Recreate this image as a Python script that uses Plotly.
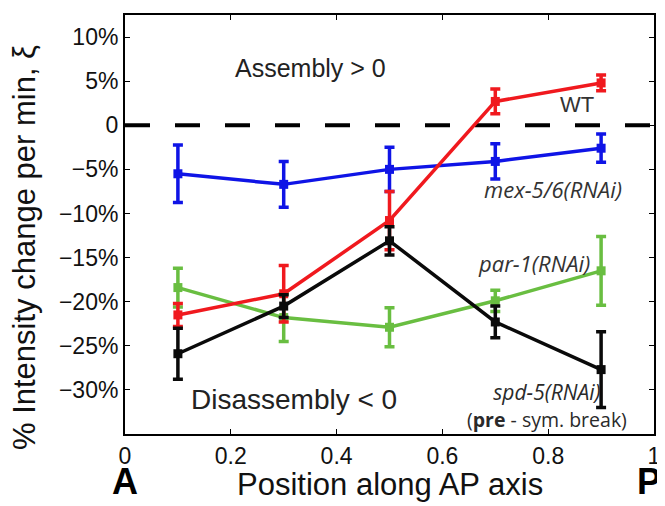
import plotly.graph_objects as go

positions = [0.1, 0.3, 0.5, 0.7, 0.9]

wt = [-21.5, -19.1, -10.8, 2.7, 4.8]
wt_err = [1.3, 3.2, 3.3, 1.4, 0.9]

mex = [-5.5, -6.7, -5.0, -4.1, -2.6]
mex_err = [3.25, 2.6, 2.5, 2.0, 1.6]

par1 = [-18.4, -21.8, -22.9, -19.9, -16.5]
par1_err = [2.2, 2.7, 2.2, 1.2, 3.9]

spd5 = [-25.9, -20.5, -13.1, -22.3, -27.7]
spd5_err = [2.9, 1.3, 1.6, 1.8, 4.3]

ytick_vals = [10, 5, 0, -5, -10, -15, -20, -25, -30]
ytick_text = ["10%", "5%", "0", "\u22125%", "\u221210%", "\u221215%", "\u221220%", "\u221225%", "\u221230%"]
xtick_vals = [0, 0.2, 0.4, 0.6, 0.8, 1]
xtick_text = ["0", "0.2", "0.4", "0.6", "0.8", "1"]

FONT = "Liberation Sans, Arial, sans-serif"
LBL = "Open Sans, sans-serif"

series = [
    (wt, wt_err, "rgb(240,25,30)", "WT"),
    (mex, mex_err, "rgb(15,20,230)", "mex-5/6(RNAi)"),
    (par1, par1_err, "rgb(105,190,65)", "par-1(RNAi)"),
    (spd5, spd5_err, "rgb(10,10,10)", "spd-5(RNAi)"),
]

fig = go.Figure()
fig.add_hline(y=0, line=dict(color="black", width=4, dash="25px,25px"), layer="below")

for vals, errs, col, name in [series[1], series[2], series[0], series[3]]:
    fig.add_trace(go.Scatter(
        x=positions, y=vals, mode="lines+markers", name=name,
        line=dict(color=col, width=3.5),
        marker=dict(symbol="square", size=9, color=col),
        error_y=dict(type="data", array=errs, visible=True, color=col, thickness=3.5, width=5),
        showlegend=False,
    ))

ann = [
    dict(x=0.35, y=6.5, text="Assembly > 0", font=dict(size=25, family=FONT, color="#222")),
    dict(x=0.855, y=2.3, text="WT", font=dict(size=22, family=FONT, color="#333")),
    dict(x=0.81, y=-7.2, text="<i>mex-5/6(RNAi)</i>", font=dict(size=22, family=LBL, color="#333")),
    dict(x=0.774, y=-15.6, text="<i>par-1(RNAi)</i>", font=dict(size=22, family=LBL, color="#333")),
    dict(x=0.797, y=-31.8,
         text="<i>spd-5(RNAi)</i><br><span style='font-size:19.5px'>(<b>pre</b> - sym. break)</span>",
         font=dict(size=21, family=LBL, color="#2a2a2a"), align="center"),
    dict(x=0.32, y=-31.1, text="Disassembly < 0", font=dict(size=28, family=FONT, color="#222")),
]
for a in ann:
    fig.add_annotation(xref="x", yref="y", showarrow=False, **a)

fig.add_annotation(xref="paper", yref="paper", x=0.0, y=-0.168, text="<b>A</b>", showarrow=False,
                   font=dict(size=36, family=FONT, color="black"), xanchor="center", yanchor="bottom")
fig.add_annotation(xref="paper", yref="paper", x=0.99, y=-0.168, text="<b>P</b>", showarrow=False,
                   font=dict(size=36, family=FONT, color="black"), xanchor="center", yanchor="bottom")
fig.add_annotation(xref="paper", yref="paper", x=0.5, y=-0.168, text="Position along AP axis", showarrow=False,
                   font=dict(size=31, family=FONT, color="#111"), xanchor="center", yanchor="bottom")
fig.add_annotation(xref="paper", yref="paper", x=-0.19, y=0.445, text="% Intensity change per min, \u03be",
                   textangle=-90, showarrow=False,
                   font=dict(size=31, family=FONT, color="#111"), xanchor="center", yanchor="middle")

fig.update_xaxes(range=[0, 1], tickvals=xtick_vals, ticktext=xtick_text, ticks="inside", ticklen=5,
                 tickcolor="black", showline=True, linecolor="black", linewidth=2, mirror="ticks",
                 showgrid=False, zeroline=False, tickfont=dict(size=23, family=FONT, color="#111"))
fig.update_yaxes(range=[-35, 12.5], tickvals=ytick_vals, ticktext=ytick_text, ticks="inside", ticklen=5,
                 tickcolor="black", showline=True, linecolor="black", linewidth=2, mirror="ticks",
                 showgrid=False, zeroline=False, tickfont=dict(size=23, family=FONT, color="#111"))

# the page body adds an 8px margin, so the figure is sized to fill the rest of the window
fig.update_layout(width=657, height=498, margin=dict(l=117, r=10, t=5, b=72),
                  plot_bgcolor="white", paper_bgcolor="white")

fig.write_html("out.html")
